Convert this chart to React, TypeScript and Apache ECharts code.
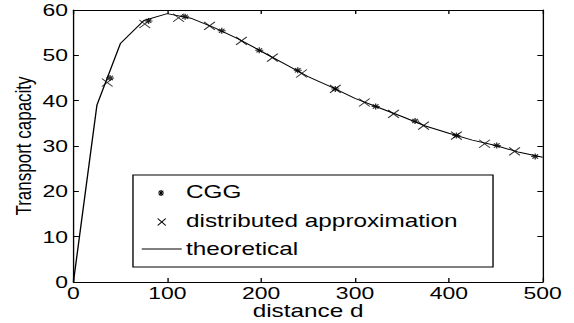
import React, { useEffect, useRef } from "react";
import * as echarts from "echarts";

// theoretical transport capacity, sampled every 25 units of distance
const theoryDistance = [0, 25, 50, 75, 100, 125, 150, 175, 200, 225, 250, 275, 300, 325, 350, 375, 400, 425, 450, 475, 500];
const theoryCapacity = [0, 39.0, 52.6, 57.7, 59.2, 58.2, 56.1, 53.7, 50.9, 48.1, 45.3, 43.0, 40.5, 38.5, 36.5, 34.4, 32.8, 31.3, 30.1, 28.6, 27.5];

// CGG simulation results
const cggDistance = [39, 80, 119, 158, 198, 239, 279, 322, 364, 408, 451, 492];
const cggCapacity = [45.0, 57.6, 58.5, 55.4, 51.1, 46.7, 42.6, 38.7, 35.5, 32.3, 30.1, 27.7];

// distributed approximation results
const distDistance = [36, 76, 112, 145, 179, 212, 243, 279, 310, 341, 373, 408, 438, 470];
const distCapacity = [44.0, 56.9, 58.3, 56.5, 53.2, 49.5, 46.0, 42.6, 39.6, 37.1, 34.5, 32.3, 30.5, 28.8];

const xTicks = [0, 100, 200, 300, 400, 500];
const yTicks = [0, 10, 20, 30, 40, 50, 60];

const legendLabels = ["CGG", "distributed approximation", "theoretical"];

const W = 574;
const H = 323;
const STRETCH = 1.35; // the figure is drawn narrow and widened horizontally
const CW = W / STRETCH;

const FONT = "'Liberation Sans', Arial, Helvetica, sans-serif";
const ASTERISK = "path://M5,0L5,10M0,5L10,5M1.5,1.5L8.5,8.5M8.5,1.5L1.5,8.5";
const CROSS = "path://M0,0L10,10M10,0L0,10";

const pairs = (xs: number[], ys: number[]) => xs.map((x, i) => [x, ys[i]]);

export default function App() {
  const ref = useRef<HTMLDivElement>(null);

  useEffect(() => {
    if (!ref.current) return;
    const chart = echarts.init(ref.current, undefined, { renderer: "svg" });

    const axisLine = { show: true, onZero: false, lineStyle: { color: "#000", width: 1 } };
    const axisTick = { show: true, inside: true, length: 4, lineStyle: { color: "#000", width: 1 } };
    const label = { color: "#000", fontFamily: FONT, fontSize: 17 };

    const lx = 98.5;
    const ly = 175;
    const rowY = [192, 221, 249];

    chart.setOption({
      animation: false,
      backgroundColor: "#fff",
      grid: {
        left: 54.4,
        right: CW - 402.2,
        top: 10,
        bottom: H - 282,
        containLabel: false,
        outerBoundsMode: "none",
      },
      xAxis: [
        {
          type: "value",
          min: xTicks[0],
          max: xTicks[xTicks.length - 1],
          interval: 100,
          position: "bottom",
          axisLine,
          axisTick,
          splitLine: { show: false },
          axisLabel: { ...label, margin: 3 },
          name: "distance d",
          nameLocation: "middle",
          nameGap: 20,
          nameMoveOverlap: false,
          nameTextStyle: { color: "#000", fontFamily: FONT, fontSize: 18, lineHeight: 18 },
        },
        {
          type: "value",
          min: xTicks[0],
          max: xTicks[xTicks.length - 1],
          interval: 100,
          position: "top",
          axisLine,
          axisTick,
          splitLine: { show: false },
          axisLabel: { show: false },
        },
      ],
      yAxis: [
        {
          type: "value",
          min: yTicks[0],
          max: yTicks[yTicks.length - 1],
          interval: 10,
          position: "left",
          axisLine,
          axisTick,
          splitLine: { show: false },
          axisLabel: { ...label, margin: 4 },
          name: "Transport capacity",
          nameLocation: "middle",
          nameGap: 29,
          nameMoveOverlap: false,
          nameTextStyle: { color: "#000", fontFamily: FONT, fontSize: 17 },
        },
        {
          type: "value",
          min: yTicks[0],
          max: yTicks[yTicks.length - 1],
          interval: 10,
          position: "right",
          axisLine,
          axisTick,
          splitLine: { show: false },
          axisLabel: { show: false },
        },
      ],
      series: [
        {
          name: "theoretical",
          type: "line",
          data: pairs(theoryDistance, theoryCapacity),
          showSymbol: false,
          symbol: "none",
          lineStyle: { color: "#000", width: 1 },
          z: 2,
        },
        {
          name: "CGG",
          type: "scatter",
          data: pairs(cggDistance, cggCapacity),
          symbol: ASTERISK,
          symbolSize: 6,
          itemStyle: { color: "none", borderColor: "#000", borderWidth: 1 },
          z: 3,
        },
        {
          name: "distributed approximation",
          type: "scatter",
          data: pairs(distDistance, distCapacity),
          symbol: CROSS,
          symbolSize: 8,
          itemStyle: { color: "none", borderColor: "#000", borderWidth: 0.9 },
          z: 3,
        },
      ],
      graphic: [
        {
          type: "rect",
          shape: { x: lx, y: ly, width: 266.7, height: 92 },
          style: { fill: "#fff", stroke: "#000", lineWidth: 1 },
          z: 10,
        },
        // asterisk key
        ...[
          [0, -3, 0, 3],
          [-2.2, 0, 2.2, 0],
          [-1.6, -2.2, 1.6, 2.2],
          [1.6, -2.2, -1.6, 2.2],
        ].map(([x1, y1, x2, y2]) => ({
          type: "line",
          shape: { x1: 119.3 + x1, y1: rowY[0] + 1 + y1, x2: 119.3 + x2, y2: rowY[0] + 1 + y2 },
          style: { stroke: "#000", lineWidth: 1 },
          z: 11,
        })),
        // cross key
        ...[
          [-3, -3.5, 3, 3.5],
          [3, -3.5, -3, 3.5],
        ].map(([x1, y1, x2, y2]) => ({
          type: "line",
          shape: { x1: 119.8 + x1, y1: rowY[1] + 1 + y1, x2: 119.8 + x2, y2: rowY[1] + 1 + y2 },
          style: { stroke: "#000", lineWidth: 0.9 },
          z: 11,
        })),
        // line key
        {
          type: "line",
          shape: { x1: 105, y1: rowY[2], x2: 134.6, y2: rowY[2] },
          style: { stroke: "#000", lineWidth: 1 },
          z: 11,
        },
        ...legendLabels.map((t, i) => ({
          type: "text",
          x: 137.8,
          y: rowY[i],
          style: {
            text: t,
            fill: "#000",
            font: `18px ${FONT}`,
            textVerticalAlign: "middle",
            verticalAlign: "middle",
          },
          z: 11,
        })),
      ],
    });

    return () => chart.dispose();
  }, []);

  return (
    <div style={{ position: "absolute", left: 0, top: 0, width: W, height: H, overflow: "hidden", background: "#fff" }}>
      <div
        ref={ref}
        style={{ width: CW, height: H, transform: `scaleX(${STRETCH})`, transformOrigin: "0 0" }}
      />
    </div>
  );
}
